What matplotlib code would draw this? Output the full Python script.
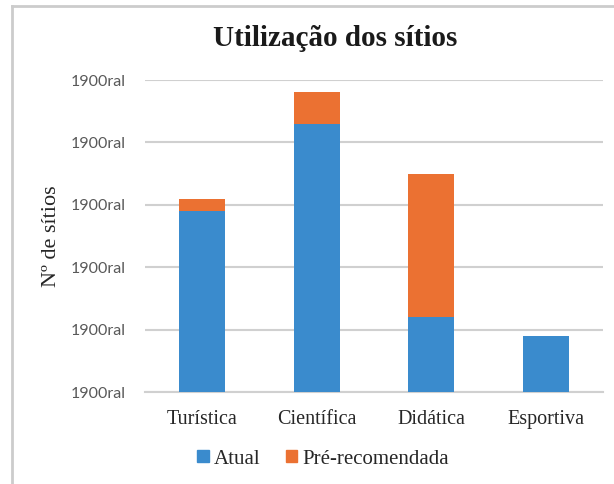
import matplotlib.pyplot as plt
import numpy as np
from matplotlib.lines import Line2D
from matplotlib.patches import Patch

categorias = ["Turística", "Científica", "Didática", "Esportiva"]
atual = [29, 43, 12, 9]
pre_recomendada = [2, 5, 23, 0]
ticks_y = [0, 10, 20, 30, 40, 50]
rotulo_tick = "1900ral"

cor_atual = "#3A8BCD"
cor_pre = "#EB7132"
cor_grade = "#D0D0D0"

fig = plt.figure(figsize=(6.14, 4.84), dpi=100)
ax = fig.add_axes([145/614, 1 - 392/484, (603-145)/614, (392-80)/484])

x = np.arange(len(categorias))
ax.bar(x, atual, width=0.40, color=cor_atual, zorder=3)
ax.bar(x, pre_recomendada, width=0.40, bottom=atual, color=cor_pre, zorder=3)

ax.set_xlim(-0.5, len(categorias) - 0.5)
ax.set_ylim(0, 50)
ax.set_yticks(ticks_y)
ax.set_yticklabels([rotulo_tick] * len(ticks_y), family="Lato", fontsize=11.5, color="#595959")
ax.set_xticks(x)
ax.set_xticklabels(categorias, family="Liberation Serif", fontsize=14.5, color="#262626")
ax.tick_params(axis="both", length=0)
ax.tick_params(axis="y", pad=14)
ax.tick_params(axis="x", pad=13)
ax.grid(axis="y", color=cor_grade, linewidth=1.5, zorder=0)
for s in ["top", "right", "left"]:
    ax.spines[s].set_visible(False)
ax.spines["bottom"].set_color(cor_grade)
ax.spines["bottom"].set_linewidth(1.5)

ax.set_ylabel("Nº de sítios", family="Liberation Serif", fontsize=16, color="#262626", labelpad=7)

fig.text(335/614, 1 - 38/484, "Utilização dos sítios", family="Liberation Serif",
         fontweight="bold", fontsize=21, ha="center", va="center", color="#1a1a1a")

handles = [Patch(color=cor_atual), Patch(color=cor_pre)]
leg = fig.legend(handles, ["Atual", "Pré-recomendada"], loc="center", bbox_to_anchor=(323/614, 1 - 459/484),
                 ncol=2, frameon=False, fontsize=15,
                 handlelength=0.55, handleheight=0.55, handletextpad=0.25, columnspacing=1.2)
for t in leg.get_texts():
    t.set_fontfamily("Liberation Serif")
    t.set_color("#262626")

# moldura cinza (só esquerda e topo visíveis)
fig.add_artist(Line2D([12/614, 12/614], [0, 1 - 6/484], color="#CCCCCC", linewidth=2, transform=fig.transFigure))
fig.add_artist(Line2D([12/614, 1], [1 - 6/484, 1 - 6/484], color="#CCCCCC", linewidth=2, transform=fig.transFigure))

fig.savefig("out.png", dpi=100)
